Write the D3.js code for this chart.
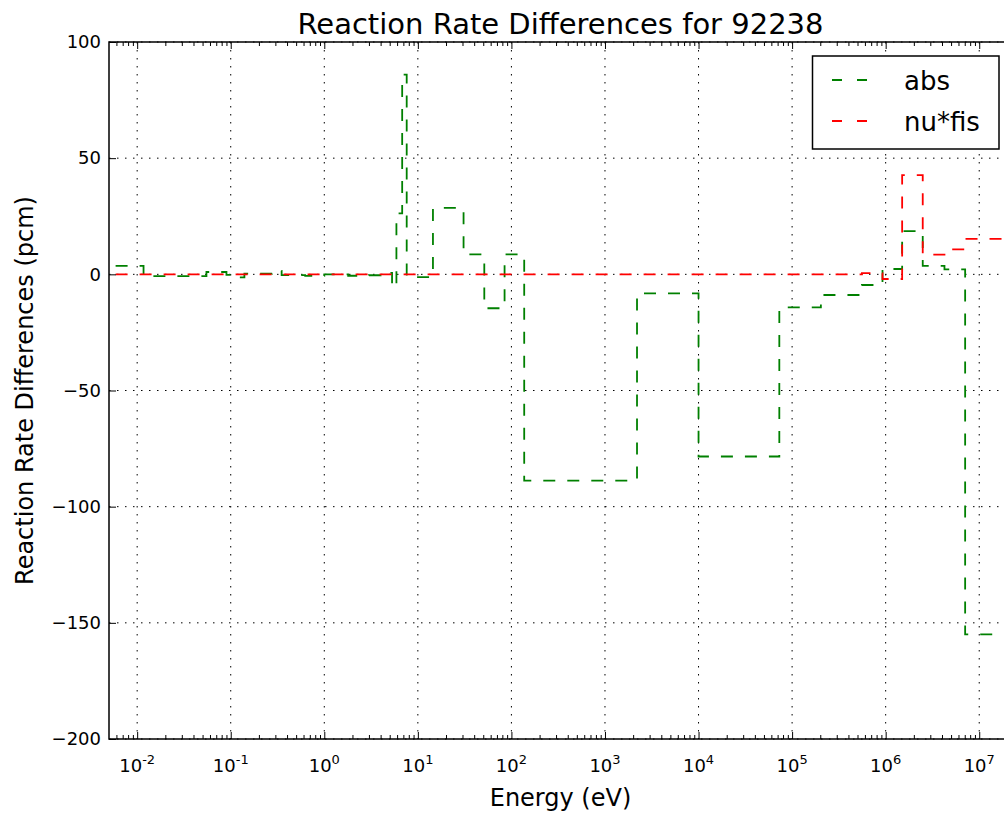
<!DOCTYPE html>
<html>
<head>
<meta charset="utf-8">
<script src="https://cdn.jsdelivr.net/npm/d3@7"></script>
<style>
body{margin:0;background:#fff;}
svg{display:block;font-family:"DejaVu Sans",sans-serif;}
.axis path{display:none;}
.axis line{stroke:#000;stroke-width:1;}
.grid line{stroke:#000;stroke-width:1;stroke-dasharray:1.5,6.5;}
</style>
</head>
<body>
<div id="chart"></div>
<script>
// group edges in eV, lowest first (one more than the number of groups)
var groupEdges = [1e-3, 0.0117, 0.055, 0.09, 0.115, 0.14, 0.277, 0.35, 0.625, 1.0, 1.8, 3.0, 4.0,
                  5.3, 5.9, 6.8, 7.6, 14.5, 30.8, 51.3, 84.5, 137, 2.2e3, 1e4, 7.3e4, 2.03e5,
                  5.57e5, 9.25e5, 1.5e6, 2.49e6, 4.25e6, 7.07e6, 2e7];

// reaction rate differences (pcm) per group
var absDiff = [3.6, -0.8, 1.0, -0.2, -1.3, 0.3, 1.5, -0.3, -0.7, 0.0, -0.6, -0.4, 0.6,
               -5.5, 26.2, 86, -1.2, 28.6, 8.6, -14.6, 8.6, -88.8, -8.2, -78.4, -14.2,
               -8.9, -4.6, 2.3, 18.6, 3.6, 2.1, -155];
var nufisDiff = [0, 0, 0, 0, 0, 0, 0, 0, 0, 0, 0, 0, 0,
                 0, 0, 0, 0, 0, 0, 0, 0, 0, 0, 0, 0,
                 0, 0.5, -2.0, 42.7, 8.5, 10.7, 15.3];

var seriesNames = ["abs", "nu*fis"];
var seriesColors = ["#008000", "#ff0000"];
var yTicks = [-200, -150, -100, -50, 0, 50, 100];
var xDecades = [-2, -1, 0, 1, 2, 3, 4, 5, 6, 7];

var margin = {top: 42, right: -8, bottom: 77, left: 109};
var W = 1004, H = 816;
var width = W - margin.left - margin.right;
var height = H - margin.top - margin.bottom;

var x = d3.scaleLog().domain([5e-3, 2.24e7]).range([0, width]);
var y = d3.scaleLinear().domain([-200, 100]).range([height, 0]);

var svg = d3.select("#chart").append("svg")
    .attr("width", W)
    .attr("height", H);

svg.append("defs").append("clipPath").attr("id", "plotclip")
    .append("rect").attr("width", width).attr("height", height);

var g = svg.append("g").attr("transform", "translate(" + margin.left + "," + margin.top + ")");

var majors = xDecades.map(function(k){ return Math.pow(10, k); });
var minors = [];
for (var k = -3; k <= 7; k++) {
    for (var m = 2; m <= 9; m++) {
        var v = m * Math.pow(10, k);
        if (v > x.domain()[0] && v < x.domain()[1]) minors.push(v);
    }
}

// grid
var grid = g.append("g").attr("class", "grid");
grid.selectAll(".gx").data(majors).enter().append("line")
    .attr("x1", function(d){ return x(d); }).attr("x2", function(d){ return x(d); })
    .attr("y1", 0).attr("y2", height);
grid.selectAll(".gy").data(yTicks).enter().append("line")
    .attr("x1", 0).attr("x2", width)
    .attr("y1", function(d){ return y(d); }).attr("y2", function(d){ return y(d); });

// the step lines
function stepPoints(vals) {
    var pts = vals.map(function(v, i){ return {x: groupEdges[i], y: v}; });
    pts.push({x: groupEdges[groupEdges.length - 1], y: vals[vals.length - 1]});
    return pts;
}

var line = d3.line()
    .curve(d3.curveStepAfter)
    .x(function(d){ return x(d.x); })
    .y(function(d){ return y(d.y); });

var lines = [absDiff, nufisDiff];
g.append("g").attr("clip-path", "url(#plotclip)")
    .selectAll("path").data(lines).enter().append("path")
    .attr("d", function(d){ return line(stepPoints(d)); })
    .attr("fill", "none")
    .attr("stroke", function(d, i){ return seriesColors[i]; })
    .attr("stroke-width", 1.8)
    .attr("stroke-dasharray", "12,12");

// ticks, pointing inwards
g.append("g").attr("class", "axis").attr("transform", "translate(0," + height + ")")
    .call(d3.axisBottom(x).tickValues(majors).tickSize(-7).tickFormat(""));
g.append("g").attr("class", "axis").attr("transform", "translate(0," + height + ")")
    .call(d3.axisBottom(x).tickValues(minors).tickSize(-4).tickFormat(""));
g.append("g").attr("class", "axis")
    .call(d3.axisTop(x).tickValues(majors).tickSize(-7).tickFormat(""));
g.append("g").attr("class", "axis")
    .call(d3.axisTop(x).tickValues(minors).tickSize(-4).tickFormat(""));

var yAxis = g.append("g").attr("class", "axis")
    .call(d3.axisLeft(y).tickValues(yTicks).tickSize(-7).tickPadding(8).tickFormat(d3.format("d")));
yAxis.selectAll("text").attr("font-size", 18).attr("font-family", "DejaVu Sans").attr("fill", "#000");

// x tick labels as 10^k
var xl = g.append("g").selectAll("text").data(xDecades).enter().append("text")
    .attr("x", function(d){ return x(Math.pow(10, d)); })
    .attr("y", height + 33)
    .attr("text-anchor", "middle")
    .attr("font-size", 18);
xl.append("tspan").text("10");
xl.append("tspan").attr("dy", -8).attr("font-size", 13)
    .text(function(d){ return d < 0 ? "-" + (-d) : String(d); });

// frame
g.append("rect").attr("width", width).attr("height", height)
    .attr("fill", "none").attr("stroke", "#000").attr("stroke-width", 1.5);

// titles
svg.append("text").attr("x", margin.left + width / 2).attr("y", 34)
    .attr("text-anchor", "middle").attr("font-size", 29)
    .text("Reaction Rate Differences for 92238");
svg.append("text").attr("x", margin.left + width / 2).attr("y", 806)
    .attr("text-anchor", "middle").attr("font-size", 24)
    .text("Energy (eV)");
svg.append("text")
    .attr("transform", "translate(32.5," + (margin.top + height / 2) + ") rotate(-90)")
    .attr("text-anchor", "middle").attr("font-size", 24)
    .text("Reaction Rate Differences (pcm)");

// legend
var legend = svg.append("g").attr("class", "legend");
legend.append("rect")
    .attr("x", 812.5).attr("y", 56).attr("width", 186.5).attr("height", 93)
    .attr("fill", "#fff").attr("stroke", "#000").attr("stroke-width", 1.5);
legend.selectAll("g.item").data(seriesNames).enter().append("g")
    .attr("class", "item")
    .each(function(d, i){
        var gi = d3.select(this);
        var ly = 80 + i * 41;
        gi.append("line")
            .attr("x1", 832).attr("x2", 869).attr("y1", ly).attr("y2", ly)
            .attr("stroke", seriesColors[i]).attr("stroke-width", 1.8)
            .attr("stroke-dasharray", "10,15");
        gi.append("text")
            .attr("x", 904).attr("y", ly + 10)
            .attr("font-size", 26)
            .text(d);
    });
</script>
</body>
</html>
